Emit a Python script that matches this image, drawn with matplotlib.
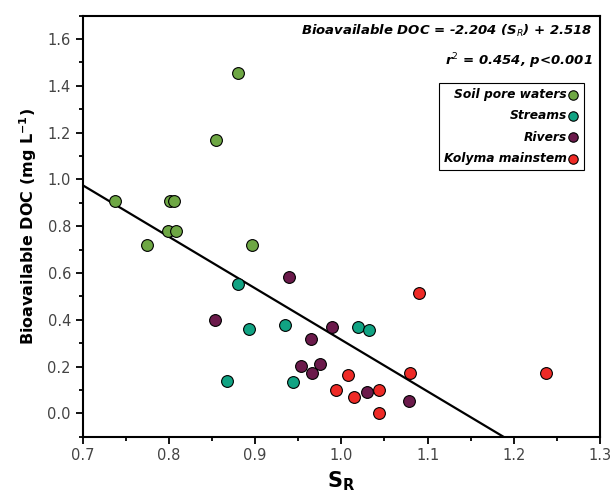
import numpy as np
import matplotlib
matplotlib.use("Agg")
import matplotlib.pyplot as plt
from matplotlib.ticker import MultipleLocator

# values
soil_sr = [0.8805, 0.8547, 0.7375, 0.8013, 0.8063, 0.7993, 0.8082, 0.7742, 0.8968]
soil_doc = [1.457, 1.168, 0.909, 0.909, 0.909, 0.779, 0.779, 0.721, 0.721]

stream_sr = [0.8806, 0.8926, 0.9347, 0.8674, 0.9443, 1.0190, 1.0325]
stream_doc = [0.551, 0.362, 0.378, 0.137, 0.135, 0.370, 0.355]

river_sr = [0.9393, 0.8539, 0.9888, 0.9649, 0.9536, 0.9749, 0.9664, 1.0298, 1.0782]
river_doc = [0.581, 0.399, 0.370, 0.318, 0.204, 0.211, 0.174, 0.090, 0.054]

kolyma_sr = [1.0901, 1.0797, 1.0081, 0.9942, 1.0144, 1.0434, 1.0434, 1.2371]
kolyma_doc = [0.513, 0.173, 0.165, 0.098, 0.068, 0.098, 0.000, 0.173]

slope, intercept = -2.204, 2.518

fig = plt.figure(figsize=(6.13, 4.96), dpi=100)
ax = fig.add_axes([0.1349, 0.1196, 0.8439, 0.8487])

# regression line
xl = np.array([0.7, 1.3])
ax.plot(xl, slope * xl + intercept, color='black', lw=1.6, zorder=2)

groups = [
    ('Soil pore waters', soil_sr, soil_doc, '#6ea744'),
    ('Streams', stream_sr, stream_doc, '#11a383'),
    ('Rivers', river_sr, river_doc, '#6b1a4b'),
    ('Kolyma mainstem', kolyma_sr, kolyma_doc, '#ee2a26'),
]
for name, xs, ys, col in groups:
    ax.scatter(xs, ys, s=72, color=col, edgecolor='black', linewidth=0.8,
               label=name, zorder=3)

ax.set_xlim(0.7, 1.3)
ax.set_ylim(-0.1, 1.7)
ax.xaxis.set_major_locator(MultipleLocator(0.1))
ax.xaxis.set_minor_locator(MultipleLocator(0.05))
ax.yaxis.set_minor_locator(MultipleLocator(0.1))
ax.set_yticks([0.0, 0.2, 0.4, 0.6, 0.8, 1.0, 1.2, 1.4, 1.6])
ax.set_yticklabels(['0.0', '0.2', '0.4', '0.6', '0.8', '1.0', '1.2', '1.4', '1.6'])
ax.tick_params(which='major', direction='out', length=5, width=1.3, labelsize=10.5,
               colors='black', labelcolor='#444444')
ax.tick_params(which='minor', direction='out', length=3, width=1.3)
for sp in ax.spines.values():
    sp.set_linewidth(1.5)

ax.set_xlabel('$\\mathbf{S_R}$', fontsize=15, fontweight='bold', labelpad=4)
ax.set_ylabel('Bioavailable DOC (mg L$^{\\mathbf{-1}}$)', fontsize=11.5,
              fontweight='heavy', labelpad=6)

ax.text(0.985, 0.965, 'Bioavailable DOC = -2.204 (S$_{R}$) + 2.518',
        transform=ax.transAxes, ha='right', va='center', fontsize=9.5,
        fontweight='bold', style='italic')
ax.text(0.985, 0.893, 'r$^2$ = 0.454, p<0.001',
        transform=ax.transAxes, ha='right', va='center', fontsize=9.5,
        fontweight='bold', style='italic')

leg = ax.legend(loc='upper right', bbox_to_anchor=(0.97, 0.84), markerfirst=False,
                fancybox=False, edgecolor='black', framealpha=1, handletextpad=0.05,
                borderpad=0.4, labelspacing=0.68, handlelength=1.0, markerscale=0.8,
                prop={'weight': 'bold', 'style': 'italic', 'size': 8.8},
                borderaxespad=0)
leg.get_frame().set_linewidth(0.8)

fig.savefig('out.png', dpi=100)
